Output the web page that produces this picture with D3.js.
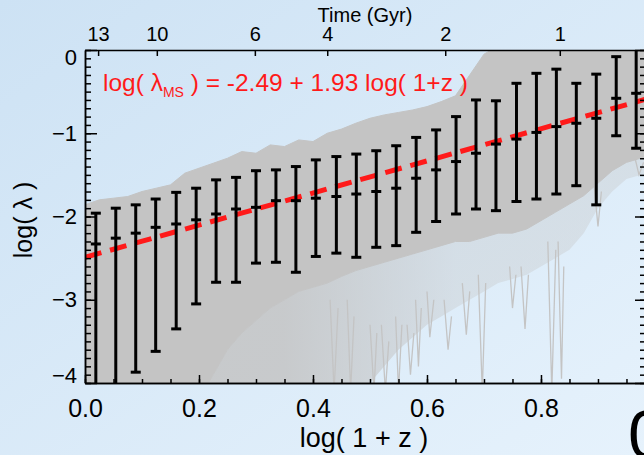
<!DOCTYPE html>
<html>
<head>
<meta charset="utf-8">
<script src="https://cdn.jsdelivr.net/npm/d3@7"></script>
<style>
  body { margin: 0; }
  svg { display: block; font-family: 'Liberation Sans', Arial, Helvetica, sans-serif; }
</style>
</head>
<body>
<div id="chart"></div>
<script>
// error bar bins, in log(1+z)
var binX = [0.019, 0.054, 0.089, 0.124, 0.160, 0.195, 0.230, 0.265, 0.300, 0.335,
  0.370, 0.405, 0.441, 0.476, 0.511, 0.546, 0.581, 0.616, 0.651, 0.686,
  0.721, 0.757, 0.792, 0.827, 0.862, 0.897, 0.932, 0.967];
var binMid = [-2.33, -2.26, -2.20, -2.13, -2.09, -2.04, -1.97, -1.91, -1.89, -1.81,
  -1.81, -1.78, -1.76, -1.73, -1.70, -1.66, -1.54, -1.44, -1.34, -1.24,
  -1.13, -1.07, -0.99, -0.92, -0.88, -0.82, -0.58, -0.52];
var binHi = [-1.96, -1.90, -1.86, -1.79, -1.71, -1.66, -1.56, -1.53, -1.45, -1.44,
  -1.40, -1.32, -1.28, -1.25, -1.21, -1.15, -1.05, -0.96, -0.80, -0.60,
  -0.61, -0.40, -0.28, -0.23, -0.40, -0.29, -0.08, 0.05];
var binLo = [-4.3, -4.3, -3.87, -3.62, -3.35, -3.05, -2.79, -2.79, -2.56, -2.55,
  -2.67, -2.48, -2.44, -2.49, -2.37, -2.35, -2.19, -2.06, -1.97, -1.91,
  -1.93, -1.82, -1.79, -1.73, -1.63, -1.86, -1.03, -1.18];

// envelope of the grey model tracks
var envX = [0, 0.025, 0.05, 0.075, 0.1, 0.125, 0.15, 0.175, 0.2, 0.225,
  0.25, 0.275, 0.3, 0.325, 0.35, 0.375, 0.4, 0.425, 0.45, 0.475,
  0.5, 0.525, 0.55, 0.575, 0.6, 0.625, 0.65, 0.675, 0.7, 0.725,
  0.75, 0.775, 0.8, 0.825, 0.85, 0.875, 0.9, 0.925, 0.95, 0.975, 1.0];
var envTop = [-1.86, -1.80, -1.78, -1.76, -1.70, -1.66, -1.62, -1.48, -1.42, -1.36,
  -1.30, -1.22, -1.24, -1.14, -1.16, -1.08, -1.10, -1.00, -0.95, -0.88,
  -0.82, -0.78, -0.75, -0.72, -0.68, -0.62, -0.55, -0.30, -0.05, 0.05,
  0.05, 0.05, 0.05, 0.05, 0.05, 0.05, 0.05, 0.05, 0.05, 0.05, 0.05];
var envCore = [-4.2, -4.2, -4.2, -4.2, -4.2, -4.2, -4.2, -4.2, -4.2, -3.9,
  -3.6, -3.4, -3.25, -3.1, -3.0, -2.9, -2.85, -2.8, -2.72, -2.65,
  -2.6, -2.55, -2.5, -2.45, -2.4, -2.35, -2.3, -2.3, -2.25, -2.2,
  -2.2, -2.15, -2.05, -1.95, -1.85, -1.75, -1.6, -1.45, -1.35, -1.3, -1.25];
var envSparse = [-4.2, -4.2, -4.2, -4.2, -4.2, -4.2, -4.2, -4.2, -4.2, -4.2,
  -4.2, -4.2, -4.2, -4.2, -4.2, -4.2, -4.2, -4.2, -4.2, -4.2,
  -4.0, -3.8, -3.6, -3.45, -3.3, -3.2, -3.1, -3.0, -2.9, -2.8,
  -2.75, -2.7, -2.6, -2.5, -2.4, -2.2, -1.9, -1.7, -1.55, -1.5, -1.45];

// single tracks that drop below the envelope
var spikeX = [[0.69, 0.697, 0.703], [0.812, 0.819, 0.826], [0.83, 0.836, 0.84],
  [0.765, 0.772, 0.778], [0.6, 0.605, 0.612], [0.662, 0.669, 0.675],
  [0.745, 0.75, 0.756], [0.545, 0.55, 0.556], [0.58, 0.585, 0.59],
  [0.5, 0.507, 0.512], [0.893, 0.9, 0.906], [0.965, 0.972, 0.98],
  [0.43, 0.437, 0.444], [0.46, 0.466, 0.472], [0.52, 0.527, 0.533],
  [0.565, 0.571, 0.577], [0.63, 0.637, 0.643]];
var spikeY = [[-2.7, -4.1, -2.8], [-2.3, -4.1, -2.4], [-2.3, -3.95, -2.6],
  [-2.6, -3.35, -2.7], [-2.9, -3.45, -3.0], [-2.8, -3.42, -2.9],
  [-2.6, -3.1, -2.7], [-3.2, -4.1, -3.3], [-3.0, -3.8, -3.1],
  [-3.3, -4.1, -3.4], [-1.6, -2.12, -1.7], [-1.3, -1.5, -1.35],
  [-3.0, -4.1, -3.1], [-3.0, -4.1, -3.2], [-3.3, -4.1, -3.5],
  [-3.3, -3.9, -3.4], [-3.0, -3.6, -3.2]];

// main-sequence fit
var fitA = -2.49, fitB = 1.93;

var xTicks = [0, 0.2, 0.4, 0.6, 0.8];
var yTicks = [0, -1, -2, -3, -4];
var timeLabels = ['13', '10', '6', '4', '2', '1'];
var timePos = [0.023, 0.126, 0.298, 0.425, 0.632, 0.833];

var width = 644, height = 455;
var plotL = 85, plotR = 645, plotT = 50, plotB = 383;

var x = d3.scaleLinear().domain([0, 0.9825]).range([plotL, plotR]);
var y = d3.scaleLinear().domain([-4, 0]).range([plotB, plotT]);

var svg = d3.select('#chart').append('svg')
  .attr('width', width)
  .attr('height', height);

var defs = svg.append('defs');
var grad = defs.append('linearGradient')
  .attr('id', 'bg')
  .attr('x1', '0').attr('y1', '0')
  .attr('x2', '1').attr('y2', '1');
grad.append('stop').attr('offset', '0').attr('stop-color', '#cde2f4');
grad.append('stop').attr('offset', '1').attr('stop-color', '#e6f2fc');

// the loose tracks thin out towards high redshift
var fade = defs.append('linearGradient')
  .attr('id', 'fade')
  .attr('gradientUnits', 'userSpaceOnUse')
  .attr('x1', x(0.35)).attr('y1', 0)
  .attr('x2', x(0.65)).attr('y2', 0);
fade.append('stop').attr('offset', '0').attr('stop-color', '#c4c4c4').attr('stop-opacity', 0.85);
fade.append('stop').attr('offset', '1').attr('stop-color', '#c4c4c4').attr('stop-opacity', 0.35);

defs.append('clipPath').attr('id', 'plot')
  .append('rect')
  .attr('x', plotL).attr('y', plotT)
  .attr('width', plotR - plotL).attr('height', plotB - plotT);

svg.append('rect')
  .attr('width', width).attr('height', height)
  .attr('fill', 'url(#bg)');

var g = svg.append('g').attr('clip-path', 'url(#plot)');

var env = envX.map(function(v, i) {
  return { x: v, top: envTop[i], core: envCore[i], sparse: envSparse[i] };
});

// sparse part of the track bundle
g.append('path')
  .datum(env)
  .attr('d', d3.area()
    .x(function(d) { return x(d.x); })
    .y0(function(d) { return y(d.sparse); })
    .y1(function(d) { return y(d.core); }))
  .attr('fill', 'url(#fade)');

// dense core
g.append('path')
  .datum(env)
  .attr('d', d3.area()
    .x(function(d) { return x(d.x); })
    .y0(function(d) { return y(d.core); })
    .y1(function(d) { return y(d.top); }))
  .attr('fill', '#c4c4c4')
  .attr('stroke', '#c4c4c4')
  .attr('stroke-width', 1);

var spikeLine = d3.line()
  .x(function(d) { return x(d[0]); })
  .y(function(d) { return y(d[1]); });

spikeX.forEach(function(xs, i) {
  g.append('path')
    .attr('d', spikeLine(xs.map(function(v, j) { return [v, spikeY[i][j]]; })))
    .attr('fill', 'none')
    .attr('stroke', '#c4c4c4')
    .attr('stroke-width', 1.3);
});

// fit line
g.append('line')
  .attr('x1', x(0)).attr('y1', y(fitA))
  .attr('x2', x(1)).attr('y2', y(fitA + fitB))
  .attr('stroke', '#ff1a1a')
  .attr('stroke-width', 5)
  .attr('stroke-dasharray', '17,9');

// error bars
var bars = g.selectAll('.bar')
  .data(binX)
  .enter().append('g')
  .attr('class', 'bar')
  .attr('stroke', '#000')
  .attr('stroke-width', 3);

bars.append('line')
  .attr('x1', function(d) { return x(d); })
  .attr('x2', function(d) { return x(d); })
  .attr('y1', function(d, i) { return y(binLo[i]); })
  .attr('y2', function(d, i) { return y(binHi[i]); });

[binLo, binHi, binMid].forEach(function(arr) {
  bars.append('line')
    .attr('x1', function(d) { return x(d) - 5; })
    .attr('x2', function(d) { return x(d) + 5; })
    .attr('y1', function(d, i) { return y(arr[i]); })
    .attr('y2', function(d, i) { return y(arr[i]); });
});

// axes
function styleAxis(sel, size) {
  sel.attr('font-family', null).attr('font-size', size || 10);
  sel.select('.domain').attr('stroke', '#000').attr('stroke-width', 1.5);
  sel.selectAll('.tick line').attr('stroke', '#000').attr('stroke-width', 1.5);
  sel.selectAll('text').attr('fill', '#000');
}

var minorX = d3.range(0, 20).map(function(i) { return i * 0.05; });
var minorY = d3.range(0, 41).map(function(i) { return -4 + i * 0.1; });

svg.append('g')
  .attr('transform', 'translate(0,' + plotB + ')')
  .call(d3.axisBottom(x).tickValues(minorX).tickSizeInner(-4).tickSizeOuter(0).tickFormat(''))
  .call(styleAxis);

svg.append('g')
  .attr('transform', 'translate(0,' + plotB + ')')
  .call(d3.axisBottom(x).tickValues(xTicks).tickSizeInner(-8).tickSizeOuter(0)
    .tickPadding(16).tickFormat(d3.format('.1f')))
  .call(styleAxis, 25);

svg.append('g')
  .attr('transform', 'translate(' + plotL + ',0)')
  .call(d3.axisLeft(y).tickValues(minorY).tickSizeInner(-6).tickSizeOuter(0).tickFormat(''))
  .call(styleAxis);

var yAxis = svg.append('g')
  .attr('transform', 'translate(' + plotL + ',0)')
  .call(d3.axisLeft(y).tickValues(yTicks).tickSizeInner(-12).tickSizeOuter(0)
    .tickPadding(8).tickFormat(d3.format('d')))
  .call(styleAxis, 22);
// end labels are kept inside the frame
yAxis.selectAll('text')
  .attr('y', function(d) { return d === 0 ? 7 : d === -4 ? -8 : 0; });

svg.append('g')
  .attr('transform', 'translate(' + plotR + ',0)')
  .call(d3.axisRight(y).tickValues(minorY).tickSizeInner(-5).tickSizeOuter(0).tickFormat(''))
  .call(styleAxis);
svg.append('g')
  .attr('transform', 'translate(' + plotR + ',0)')
  .call(d3.axisRight(y).tickValues(yTicks).tickSizeInner(-10).tickSizeOuter(0).tickFormat(''))
  .call(styleAxis);

svg.append('g')
  .attr('transform', 'translate(0,' + plotT + ')')
  .call(d3.axisTop(x).tickValues(timePos).tickSizeInner(-6).tickSizeOuter(0)
    .tickPadding(9).tickFormat(function(d, i) { return timeLabels[i]; }))
  .call(styleAxis, 20);

// titles
svg.append('text')
  .attr('x', 365).attr('y', 22)
  .attr('text-anchor', 'middle')
  .attr('font-size', 20)
  .text('Time (Gyr)');

svg.append('text')
  .attr('x', 364).attr('y', 447)
  .attr('text-anchor', 'middle')
  .attr('font-size', 27)
  .text('log( 1 + z )');

svg.append('text')
  .attr('transform', 'translate(32,220) rotate(-90)')
  .attr('text-anchor', 'middle')
  .attr('font-size', 25)
  .text('log( \u03bb )');

var eq = svg.append('text')
  .attr('x', 103).attr('y', 91)
  .attr('font-size', 24.5)
  .attr('fill', '#ff1a1a');
eq.append('tspan').text('log( \u03bb');
eq.append('tspan').attr('font-size', 14).attr('dy', 6).text('MS');
eq.append('tspan').attr('dy', -6).text(' ) = ' + fitA.toFixed(2) + ' + ' + fitB.toFixed(2) + ' log( 1+z )');

// edge of the next panel
svg.append('text')
  .attr('x', 628).attr('y', 458)
  .attr('font-size', 68)
  .text('0');
</script>
</body>
</html>
